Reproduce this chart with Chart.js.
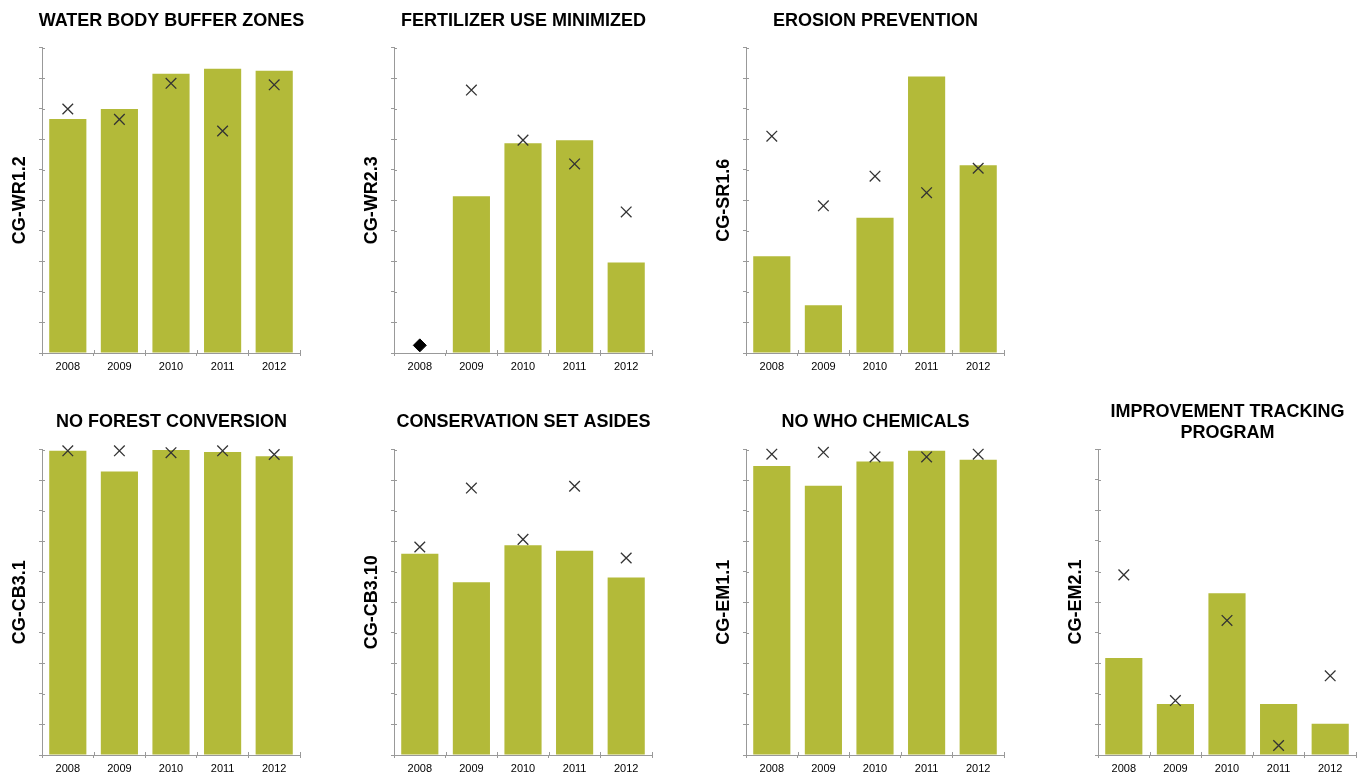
<!DOCTYPE html>
<html lang="en">
<head>
<meta charset="UTF-8">
<title>Indicator charts 2008-2012</title>
<script src="https://cdn.jsdelivr.net/npm/chart.js"></script>
<style>
  html, body { margin: 0; padding: 0; background: #fff; overflow: hidden; }
  body { width: 1364px; height: 776px; position: relative; }
  .cell { position: absolute; width: 343px; }
  .top { top: 0; height: 374px; }
  .bottom { top: 400px; height: 376px; }
</style>
</head>
<body>
<div class="cell top" style="left:0px"><canvas id="c1"></canvas></div>
<div class="cell top" style="left:352px"><canvas id="c2"></canvas></div>
<div class="cell top" style="left:704px"><canvas id="c3"></canvas></div>
<div class="cell bottom" style="left:0px"><canvas id="c4"></canvas></div>
<div class="cell bottom" style="left:352px"><canvas id="c5"></canvas></div>
<div class="cell bottom" style="left:704px"><canvas id="c6"></canvas></div>
<div class="cell bottom" style="left:1056px"><canvas id="c7"></canvas></div>

<script>
// categories
const years = ['2008', '2009', '2010', '2011', '2012'];
// y axis runs 0..100 with a tick every 10 (no labels shown)
const yMax = 100;
const yStep = 10;

// bars = green columns, marks = the x markers
const bufferBars = [76.6, 79.9, 91.4, 93.1, 92.4];
const bufferMarks = [79.9, 76.5, 88.3, 72.7, 87.8];

const fertilizerBars = [null, 51.3, 68.7, 69.7, 29.6];
const fertilizerMarks = [null, 86.1, 69.7, 61.9, 46.2];
const fertilizerDiamond = [2.5, null, null, null, null];

const erosionBars = [31.7, 15.6, 44.3, 90.5, 61.5];
const erosionMarks = [71.0, 48.2, 57.9, 52.5, 60.5];

const forestBars = [99.6, 92.8, 99.9, 99.2, 97.8];
const forestMarks = [99.6, 99.6, 99.0, 99.6, 98.4];

const setAsideBars = [65.9, 56.6, 68.7, 66.9, 58.1];
const setAsideMarks = [68.1, 87.4, 70.6, 88.0, 64.5];

const chemicalBars = [94.6, 88.2, 96.1, 99.6, 96.7];
const chemicalMarks = [98.5, 99.1, 97.6, 97.6, 98.5];

const trackingBars = [31.7, 16.7, 52.9, 16.7, 10.2];
const trackingMarks = [58.9, 17.8, 44.0, 3.1, 25.9];

const barColor = '#b3ba39';
const axisColor = '#999';
const fontFamily = '"Liberation Sans", Arial, Helvetica, sans-serif';

// the original ticks cross the axis line, chart.js only draws the outer half
const innerTicks = {
    id: 'innerTicks',
    afterDatasetsDraw(chart) {
        const ctx = chart.ctx;
        const x = chart.scales.x, y = chart.scales.y;
        ctx.save();
        ctx.strokeStyle = axisColor;
        ctx.lineWidth = 1;
        ctx.beginPath();
        y.ticks.forEach((t, i) => {
            const py = Math.round(y.getPixelForTick(i)) + 0.5;
            ctx.moveTo(y.right, py);
            ctx.lineTo(y.right + 3, py);
        });
        for (let i = 0; i <= years.length; i++) {
            const px = Math.round(x.getPixelForValue(i - 0.5)) + 0.5;
            ctx.moveTo(px, x.top);
            ctx.lineTo(px, x.top - 3);
        }
        ctx.stroke();
        ctx.restore();
    }
};

function makeChart(id, title, code, bars, marks, diamond, titlePad) {
    const datasets = [{
        type: 'line',
        data: marks,
        showLine: false,
        pointStyle: 'crossRot',
        pointRadius: 7.5,
        pointBorderColor: '#333',
        pointBorderWidth: 1.3,
        clip: false,
        order: 0
    }];
    if (diamond) {
        datasets.push({
            type: 'line',
            data: diamond,
            showLine: false,
            pointStyle: 'rectRot',
            pointRadius: 6.5,
            pointBackgroundColor: '#000',
            pointBorderColor: '#000',
            clip: false,
            order: 0
        });
    }
    datasets.push({
        type: 'bar',
        data: bars,
        backgroundColor: barColor,
        barPercentage: 0.72,
        categoryPercentage: 1,
        order: 1
    });

    return new Chart(document.getElementById(id), {
        type: 'bar',
        data: { labels: years, datasets: datasets },
        plugins: [innerTicks],
        options: {
            responsive: true,
            maintainAspectRatio: false,
            animation: false,
            events: [],
            layout: { padding: 0 },
            plugins: {
                legend: { display: false },
                tooltip: { enabled: false },
                title: {
                    display: true,
                    text: title,
                    color: '#000',
                    font: { family: fontFamily, size: 18, weight: 'bold', lineHeight: 1.2 },
                    padding: titlePad
                }
            },
            scales: {
                x: {
                    grid: { display: true, drawOnChartArea: false, drawTicks: true, tickLength: 3, color: axisColor },
                    border: { color: axisColor, width: 1 },
                    ticks: { color: '#000', padding: 4, font: { family: fontFamily, size: 11 } },
                    afterFit: s => { s.height = 21; }
                },
                y: {
                    min: 0,
                    max: yMax,
                    grid: { display: true, drawOnChartArea: false, drawTicks: true, tickLength: 3, color: axisColor },
                    border: { color: axisColor, width: 1 },
                    ticks: { display: false, stepSize: yStep },
                    title: {
                        display: true,
                        text: code,
                        color: '#000',
                        font: { family: fontFamily, size: 18, weight: 'bold', lineHeight: 1.2 },
                        padding: { top: 9, bottom: 0 }
                    },
                    afterFit: s => { s.width = 42; }
                },
                // empty right axis only keeps the plot narrower so the title sits over it
                yRight: {
                    position: 'right',
                    display: true,
                    grid: { display: false },
                    border: { display: false },
                    ticks: { display: false },
                    afterFit: s => { s.width = 43; }
                }
            }
        }
    });
}

const padTop = { top: 10, bottom: 16 };
const padBottom = { top: 11, bottom: 17 };
const padTwoLine = { top: 1, bottom: 5 };

makeChart('c1', 'WATER BODY BUFFER ZONES', 'CG-WR1.2', bufferBars, bufferMarks, null, padTop);
makeChart('c2', 'FERTILIZER USE MINIMIZED', 'CG-WR2.3', fertilizerBars, fertilizerMarks, fertilizerDiamond, padTop);
makeChart('c3', 'EROSION PREVENTION', 'CG-SR1.6', erosionBars, erosionMarks, null, padTop);
makeChart('c4', 'NO FOREST CONVERSION', 'CG-CB3.1', forestBars, forestMarks, null, padBottom);
makeChart('c5', 'CONSERVATION SET ASIDES', 'CG-CB3.10', setAsideBars, setAsideMarks, null, padBottom);
makeChart('c6', 'NO WHO CHEMICALS', 'CG-EM1.1', chemicalBars, chemicalMarks, null, padBottom);
makeChart('c7', ['IMPROVEMENT TRACKING', 'PROGRAM'], 'CG-EM2.1', trackingBars, trackingMarks, null, padTwoLine);
</script>
</body>
</html>
